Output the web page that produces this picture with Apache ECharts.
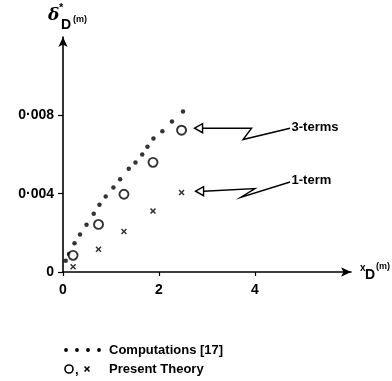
<!DOCTYPE html>
<html><head><meta charset="utf-8">
<script src="https://cdn.jsdelivr.net/npm/echarts@6/dist/echarts.min.js"></script>
<style>html,body{margin:0;padding:0;background:#fff}#c{width:392px;height:381px}</style>
</head><body><div id="c"></div>
<script>
// ---- data ----
const computationsX = [0.056,0.125,0.24,0.354,0.49,0.64,0.76,0.89,1.05,1.19,1.37,1.51,1.65,1.76,1.885,2.07,2.27,2.50];
const computationsY = [0.00058,0.00092,0.00147,0.00192,0.00241,0.00297,0.00343,0.00386,0.00432,0.00474,0.00527,0.00559,0.0060,0.00639,0.00682,0.00719,0.00769,0.00819];
const termX = [0.21,0.74,1.27,1.875,2.47];
const threeTermsY = [0.00085,0.00243,0.00397,0.0056,0.00724];
const oneTermY = [0.00027,0.00116,0.00207,0.00311,0.00406];
const xTickValues = [0,2,4];
const xTickLabels = ['0','2','4'];
const yTickValues = [0,0.004,0.008];
const yTickLabels = ['0','0·004','0·008'];
const annotationLabels = ['3-terms','1-term'];
const legendLabels = ['Computations [17]','Present Theory'];

const FONT = 'Liberation Sans';
const zip = (a,b)=>a.map((v,i)=>[v,b[i]]);
const crossPts = [[0,1.8],[1.8,0],[5,3.2],[8.2,0],[10,1.8],[6.8,5],[10,8.2],[8.2,10],[5,6.8],[1.8,10],[0,8.2],[3.2,5]];
const crossD = 'M' + crossPts.map(p=>p.join(',')).join('L') + 'Z';

const chart = echarts.init(document.getElementById('c'), null, {renderer:'canvas'});
chart.setOption({
  animation:false,
  backgroundColor:'#fff',
  grid:{left:63, top:37, right:41, bottom:109, containLabel:false},
  xAxis:{
    type:'value', min:0, max:6, interval:2, splitLine:{show:false},
    axisLine:{show:true, onZero:false, symbol:['none','arrow'], symbolSize:[7,10], lineStyle:{color:'#000', width:1.6}},
    axisTick:{show:true, length:4, customValues:xTickValues, lineStyle:{color:'#000', width:1.2}},
    axisLabel:{color:'#000', fontFamily:FONT, fontWeight:'bold', fontSize:14, margin:11,
      customValues:xTickValues, formatter:v=>xTickLabels[xTickValues.indexOf(v)] ?? ''}
  },
  yAxis:{
    type:'value', min:0, max:0.012, interval:0.004, splitLine:{show:false},
    axisLine:{show:true, onZero:false, symbol:['none','arrow'], symbolSize:[7,10], lineStyle:{color:'#000', width:1.6}},
    axisTick:{show:true, length:5, customValues:yTickValues, lineStyle:{color:'#000', width:1.2}},
    axisLabel:{color:'#000', fontFamily:FONT, fontWeight:'bold', fontSize:14, margin:9,
      customValues:yTickValues, formatter:v=>{const i=yTickValues.findIndex(t=>Math.abs(t-v)<1e-9);return i>=0?yTickLabels[i]:'';}}
  },
  series:[
    {type:'scatter', name:legendLabels[0], data:zip(computationsX,computationsY), symbol:'circle', symbolSize:4.5,
      itemStyle:{color:'#000'}},
    {type:'scatter', name:'3-terms', data:zip(termX,threeTermsY), symbol:'circle', symbolSize:9,
      itemStyle:{color:'#fff', borderColor:'#000', borderWidth:1.9}},
    {type:'scatter', name:'1-term', data:zip(termX,oneTermY), symbol:'path://'+crossD, symbolSize:6,
      itemStyle:{color:'#000'}}
  ]
});

// ---- annotations, axis names and key ----
function arrowGroup(anchor, pts, label, textOff){
  const [ax,ay]=anchor;
  const P=pts.map(p=>[ax+p[0], ay+p[1]]);
  const tip=P[0];
  return [
    {type:'polygon', shape:{points:[tip,[tip[0]+8,tip[1]-4.5],[tip[0]+8,tip[1]+4.5]]},
      style:{fill:'#fff', stroke:'#000', lineWidth:1.4}},
    {type:'polyline', shape:{points:P.slice(1)}, style:{stroke:'#000', lineWidth:1.4, fill:null}},
    {type:'text', x:ax+textOff[0], y:ay+textOff[1],
      style:{text:label, fill:'#000', font:'bold 13px '+FONT, textVerticalAlign:'middle'}}
  ];
}
function txt(x,y,s,font){
  return {type:'text', x:x, y:y, style:{text:s, fill:'#000', font:font, textVerticalAlign:'top'}};
}
const a3 = chart.convertToPixel({seriesIndex:1}, [termX[4], threeTermsY[4]]);
const a1 = chart.convertToPixel({seriesIndex:2}, [termX[4], oneTermY[4]]);
const g = [];
g.push(...arrowGroup(a3, [[13,-2],[21,-2],[70,-2],[61.5,9.3],[108.5,-2]], annotationLabels[0], [110,-3]));
g.push(...arrowGroup(a1, [[14,-1.3],[22,-1.3],[73.5,-4],[59,5],[108.5,-10.5]], annotationLabels[1], [110,-12]));

// y-axis name
g.push(txt(48,7,'δ','italic bold 17px DejaVu Serif'));
g.push(txt(59,2,'*','bold 11px '+FONT));
g.push(txt(61,18,'D','bold 14px '+FONT));
g.push(txt(73,15,'(m)','bold 9px '+FONT));
// x-axis name
g.push(txt(360,263,'x','bold 10px '+FONT));
g.push(txt(365,268,'D','bold 14px '+FONT));
g.push(txt(376,262,'(m)','bold 9px '+FONT));

// key
const row1 = 350, row2 = 369;
for (let i=0;i<4;i++) g.push({type:'circle', shape:{cx:66+i*11, cy:row1, r:1.9}, style:{fill:'#000'}});
g.push({type:'text', x:109, y:row1, style:{text:legendLabels[0], fill:'#000', font:'bold 13px '+FONT, textVerticalAlign:'middle'}});
g.push({type:'circle', shape:{cx:69, cy:row2, r:4}, style:{fill:'#fff', stroke:'#000', lineWidth:1.6}});
g.push({type:'text', x:75, y:row2+1, style:{text:',', fill:'#000', font:'bold 13px '+FONT, textVerticalAlign:'middle'}});
g.push({type:'polygon', shape:{points:crossPts.map(p=>[84+p[0]*0.6, row2-3+p[1]*0.6])}, style:{fill:'#000'}});
g.push({type:'text', x:109, y:row2, style:{text:legendLabels[1], fill:'#000', font:'bold 13px '+FONT, textVerticalAlign:'middle'}});

chart.setOption({graphic:{elements:g}});
</script></body></html>
